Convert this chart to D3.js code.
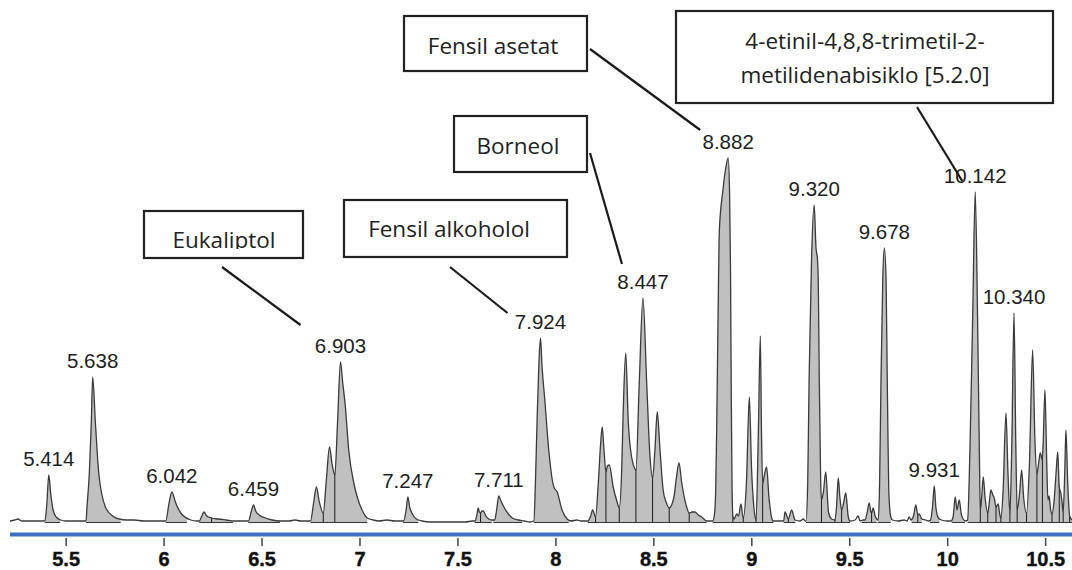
<!DOCTYPE html>
<html>
<head>
<meta charset="utf-8">
<script src="https://cdn.jsdelivr.net/npm/d3@7"></script>
<style>
body { margin: 0; background: #fff; }
svg { display: block; }
.peak-label { font-family: "Liberation Sans", Arial, sans-serif; font-size: 20.5px; fill: #1e1e1e; text-anchor: middle; }
.note text { font-family: "Open Sans", sans-serif; font-size: 22.5px; fill: #222; text-anchor: middle; }
.axis text { font-family: "Liberation Sans", Arial, sans-serif; font-weight: bold; font-size: 20px; fill: #111; stroke: #111; stroke-width: 0.4px; }
</style>
</head>
<body>
<script>
var w = 1072;
var h = 570;

// retention time (min) vs detector signal
var trace = [
  [5.216,1],[5.24,2],[5.257,3],[5.275,1],[5.31,1],[5.35,1],
  [5.394,1],[5.404,18],[5.414,47],[5.424,28],[5.436,12],[5.452,5],[5.475,2],[5.5,1],[5.55,1],[5.59,1],
  [5.604,1],[5.609,15],[5.621,49],[5.631,99],[5.638,145],[5.652,99],[5.669,49],[5.703,15],[5.74,6],[5.774,3],[5.81,2],[5.85,2],[5.9,1],[5.95,1],[5.99,1],
  [6.011,1],[6.028,19],[6.042,30],[6.062,19],[6.088,9],[6.139,2],[6.17,1],
  [6.182,1],[6.195,6],[6.206,10],[6.22,6],[6.245,4],[6.28,3],[6.32,2],[6.36,1],[6.4,1],
  [6.433,1],[6.447,10],[6.459,17],[6.47,11],[6.488,7],[6.52,4],[6.554,2],[6.6,1],[6.64,1],[6.67,2],[6.7,1],[6.73,1],
  [6.75,1],[6.765,18],[6.78,35],[6.795,20],[6.815,9],[6.83,40],[6.847,75],[6.86,58],[6.874,47],[6.888,100],[6.903,160],[6.914,140],[6.928,115],[6.945,72],[6.971,39],[6.99,24],[7.013,12],[7.04,4],[7.07,2],[7.1,1],[7.14,2],[7.18,1],
  [7.225,1],[7.238,12],[7.247,25],[7.256,15],[7.27,8],[7.29,3],[7.32,1],[7.36,0],[7.42,0],[7.48,0],[7.54,0],[7.575,1],
  [7.59,1],[7.598,6],[7.606,14],[7.612,10],[7.618,9],[7.625,11],[7.632,11],[7.645,6],[7.66,3],[7.675,2],[7.69,2],[7.70,12],[7.711,26],[7.722,21],[7.74,14],[7.76,8],[7.78,4],[7.81,2],[7.84,1],[7.87,0],
  [7.89,1],[7.898,39],[7.907,105],[7.916,160],[7.924,184],[7.932,155],[7.946,122],[7.966,72],[7.992,35],[8.009,30],[8.034,12],[8.06,3],[8.08,1],[8.11,2],[8.13,1],[8.15,1],
  [8.165,1],[8.18,6],[8.19,12],[8.205,5],[8.219,39],[8.231,79],[8.239,95],[8.248,72],[8.258,50],[8.266,56],[8.275,57],[8.295,35],[8.315,20],[8.326,14],[8.338,50],[8.346,110],[8.359,169],[8.372,100],[8.389,65],[8.40,56],[8.411,52],[8.428,139],[8.447,224],[8.466,139],[8.483,65],[8.496,44],[8.508,72],[8.52,110],[8.534,72],[8.55,32],[8.565,20],[8.581,14],[8.605,25],[8.618,45],[8.631,59],[8.645,39],[8.67,15],[8.683,9],[8.698,10],[8.712,10],[8.73,7],[8.747,5],[8.772,1],[8.79,1],
  [8.803,1],[8.812,8],[8.818,30],[8.823,90],[8.83,200],[8.837,292],[8.854,330],[8.868,352],[8.882,364],[8.889,330],[8.894,250],[8.898,120],[8.902,30],[8.906,6],[8.912,3],
  [8.918,5],[8.925,8],[8.935,6],[8.947,18],[8.959,4],[8.975,39],[8.99,125],[9.001,55],[9.013,15],[9.024,2],[9.036,90],[9.046,186],[9.052,90],[9.058,38],[9.065,45],[9.078,55],[9.09,25],[9.103,5],[9.112,1],[9.14,1],
  [9.165,1],[9.172,10],[9.189,3],[9.206,12],[9.223,2],[9.249,1],[9.266,3],[9.275,1],
  [9.279,1],[9.288,40],[9.295,142],[9.307,259],[9.321,317],[9.33,275],[9.338,262],[9.342,239],[9.347,142],[9.354,42],[9.358,22],[9.368,30],[9.38,50],[9.394,10],[9.41,3],[9.427,2],[9.435,15],[9.444,44],[9.452,25],[9.461,12],[9.47,18],[9.482,29],[9.495,5],[9.504,1],[9.53,2],[9.545,6],[9.555,1],
  [9.57,2],[9.58,2],[9.59,8],[9.602,19],[9.61,10],[9.614,9],[9.622,14],[9.632,6],[9.64,3],[9.648,2],[9.655,40],[9.662,142],[9.671,242],[9.679,274],[9.688,242],[9.694,142],[9.703,25],[9.712,5],[9.72,2],[9.75,1],[9.78,2],[9.795,1],
  [9.806,5],[9.815,2],[9.828,6],[9.84,17],[9.85,7],[9.857,8],[9.87,3],[9.89,2],[9.905,1],
  [9.915,2],[9.925,15],[9.934,36],[9.942,15],[9.955,4],[9.97,2],[10.0,1],[10.02,1],
  [10.03,5],[10.041,25],[10.05,12],[10.061,22],[10.072,8],[10.081,3],[10.095,1],
  [10.104,2],[10.116,72],[10.13,205],[10.143,330],[10.155,205],[10.164,72],[10.169,12],[10.176,25],[10.184,45],[10.193,25],[10.207,9],
  [10.215,20],[10.223,32],[10.233,27],[10.24,24],[10.249,15],[10.26,18],[10.268,8],[10.274,4],[10.285,30],[10.30,109],[10.31,50],[10.32,9],
  [10.33,80],[10.341,209],[10.35,80],[10.357,12],[10.37,30],[10.38,52],[10.39,25],[10.405,9],[10.42,60],[10.436,172],[10.448,80],[10.458,48],
  [10.466,58],[10.475,69],[10.486,62],[10.499,132],[10.508,60],[10.514,22],[10.52,26],[10.528,12],[10.535,8],[10.545,20],[10.556,50],[10.564,70],
  [10.572,35],[10.58,29],[10.586,20],[10.592,10],[10.6,50],[10.606,92],[10.615,40],[10.625,6],[10.637,2]
];

// integrated (shaded) windows, start/end time
var fillRanges = [
  [5.394,5.471],[5.604,5.781],[6.011,6.119],[6.182,6.354],[6.433,6.594],[6.75,7.04],[7.223,7.30],
  [7.588,7.675],[7.683,7.83],[7.89,8.068],[8.165,8.772],[8.803,8.906],[8.906,9.112],[9.165,9.225],
  [9.279,9.427],[9.427,9.504],[9.563,9.64],[9.645,9.712],[9.818,9.87],[9.912,9.96],[10.023,10.091],[10.104,10.637]
];

// peak split lines
var dropTimes = [6.245, 6.815, 6.874, 7.618, 8.205, 8.258, 8.326, 8.411, 8.496, 8.581, 8.683, 8.906, 8.959, 9.024,
  9.058, 9.189, 9.358, 9.427, 9.461, 9.614, 9.85, 10.169, 10.207, 10.249, 10.274, 10.32, 10.357, 10.405, 10.458,
  10.486, 10.535, 10.572, 10.592, 10.625];

var peakLabels = ["5.414","5.638","6.042","6.459","6.903","7.247","7.711","7.924","8.447","8.882","9.320","9.678","9.931","10.142","10.340"];

var tickValues = [5.5, 6, 6.5, 7, 7.5, 8, 8.5, 9, 9.5, 10, 10.5];

var compounds = ["Eukaliptol", "Fensil alkoholol", "Borneol", "Fensil asetat", "4-etinil-4,8,8-trimetil-2-|metilidenabisiklo [5.2.0]"];
var compoundPeaks = ["6.903", "7.924", "8.447", "8.882", "10.142"];

// Scales
var xScale = d3.scaleLinear().domain([5.216, 10.637]).range([10, w]);
var yScale = d3.scaleLinear().domain([0, 380]).range([522, 142]);

var svg = d3.select("body").append("svg")
  .attr("width", w)
  .attr("height", h);

var defs = svg.append("defs");

var area = d3.area()
  .curve(d3.curveMonotoneX)
  .x(function(d) { return xScale(d[0]); })
  .y0(yScale(0))
  .y1(function(d) { return yScale(d[1]); });

var line = d3.line()
  .curve(d3.curveMonotoneX)
  .x(function(d) { return xScale(d[0]); })
  .y(function(d) { return yScale(d[1]); });

defs.append("clipPath").attr("id", "fillClip")
  .selectAll("rect")
  .data(fillRanges)
  .enter().append("rect")
  .attr("x", function(d) { return xScale(d[0]); })
  .attr("width", function(d) { return xScale(d[1]) - xScale(d[0]); })
  .attr("y", 0)
  .attr("height", h);

defs.append("clipPath").attr("id", "underCurve")
  .append("path")
  .attr("d", area(trace));

// shaded peaks
svg.append("path")
  .attr("d", area(trace))
  .attr("fill", "#c0c0c0")
  .attr("clip-path", "url(#fillClip)");

// baselines under shaded peaks
svg.append("g").selectAll("line")
  .data(fillRanges)
  .enter().append("line")
  .attr("x1", function(d) { return xScale(d[0]); })
  .attr("x2", function(d) { return xScale(d[1]); })
  .attr("y1", yScale(0) + 0.5)
  .attr("y2", yScale(0) + 0.5)
  .attr("stroke", "#333")
  .attr("stroke-width", 1);

// drop lines
svg.append("g")
  .attr("clip-path", "url(#underCurve)")
  .selectAll("line")
  .data(dropTimes)
  .enter().append("line")
  .attr("x1", function(d) { return xScale(d); })
  .attr("x2", function(d) { return xScale(d); })
  .attr("y1", yScale(0) + 1)
  .attr("y2", yScale(380))
  .attr("stroke", "#1a1a1a")
  .attr("stroke-width", 1);

// trace
svg.append("path")
  .attr("d", line(trace))
  .attr("fill", "none")
  .attr("stroke", "#3a3a3a")
  .attr("stroke-width", 1.3)
  .attr("stroke-linejoin", "round");

// apex lookup for labels
function apexOf(label) {
  var t = parseFloat(label);
  var best = null;
  trace.forEach(function(d) {
    if (Math.abs(d[0] - t) < 0.012 && (!best || d[1] > best[1])) best = d;
  });
  return best;
}

svg.append("g").selectAll("text")
  .data(peakLabels)
  .enter().append("text")
  .attr("class", "peak-label")
  .attr("x", function(d) { return xScale(apexOf(d)[0]); })
  .attr("y", function(d) { return yScale(apexOf(d)[1]) - 9; })
  .text(function(d) { return d; });

// axis
svg.append("line")
  .attr("x1", xScale.range()[0])
  .attr("x2", xScale.range()[1])
  .attr("y1", 534.5)
  .attr("y2", 534.5)
  .attr("stroke", "#3d6fc4")
  .attr("stroke-width", 4);

var xAxis = d3.axisBottom(xScale)
  .tickValues(tickValues)
  .tickFormat(d3.format("~g"))
  .tickSize(8)
  .tickPadding(6);

var gx = svg.append("g")
  .attr("class", "axis")
  .attr("transform", "translate(0,538)")
  .call(xAxis);
gx.select(".domain").remove();
gx.selectAll(".tick line").attr("stroke", "#444").attr("stroke-width", 1.5);

// compound call-outs (box layout in px, leader end relative to peak label)
var noteLayout = [
  { x: 144, y: 211, w: 159, h: 47, tx: 224, ty: 248, start: [222, 267], off: [-40, -28], clipY: 249 },
  { x: 344, y: 200, w: 223, h: 57, tx: 449, ty: 237, start: [450, 267], off: [-33, -16] },
  { x: 454, y: 116, w: 133, h: 56, tx: 518, ty: 154, start: [590, 153], off: [-21, -25] },
  { x: 404, y: 16,  w: 183, h: 55, tx: 493, ty: 54,  start: [590, 49],  off: [-28, -19] },
  { x: 676, y: 11,  w: 377, h: 92, tx: 865, ty: 49,  start: [917, 107], off: [-13, -2] }
];

compounds.forEach(function(name, i) {
  var lay = noteLayout[i];
  var g = svg.append("g").attr("class", "note");
  g.append("rect")
    .attr("x", lay.x).attr("y", lay.y)
    .attr("width", lay.w).attr("height", lay.h)
    .attr("fill", "#fff")
    .attr("stroke", "#222")
    .attr("stroke-width", 2.2);
  var txt = g.append("text").attr("x", lay.tx).attr("y", lay.ty);
  if (lay.clipY) {
    defs.append("clipPath").attr("id", "noteClip" + i)
      .append("rect").attr("x", lay.x).attr("y", lay.y).attr("width", lay.w).attr("height", lay.clipY - lay.y);
    txt.attr("clip-path", "url(#noteClip" + i + ")");
  }
  name.split("|").forEach(function(part, j) {
    txt.append("tspan").attr("x", lay.tx).attr("dy", j === 0 ? 0 : 33.5).text(part);
  });
  var apex = apexOf(compoundPeaks[i]);
  g.append("line")
    .attr("x1", lay.start[0]).attr("y1", lay.start[1])
    .attr("x2", xScale(apex[0]) + lay.off[0])
    .attr("y2", yScale(apex[1]) - 9 + lay.off[1])
    .attr("stroke", "#1a1a1a")
    .attr("stroke-width", 2.2);
});
</script>
</body>
</html>
